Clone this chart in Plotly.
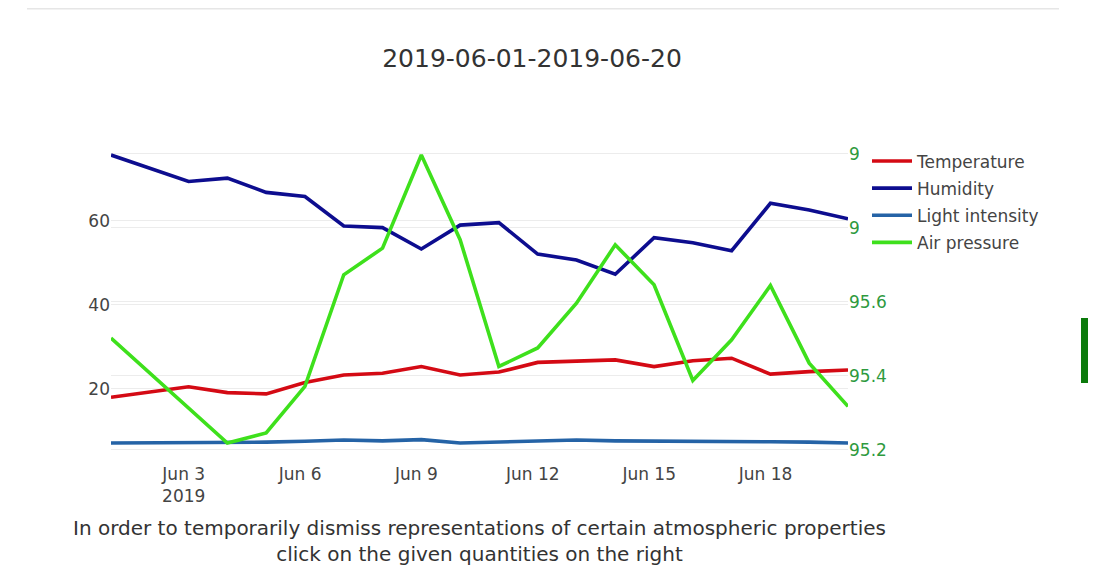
import plotly.graph_objects as go

dates = [f"2019-06-{d:02d} 03:00" for d in range(1, 21)]

temperature = [18.0, 19.2, 20.5, 19.1, 18.8, 21.5, 23.3, 23.7, 25.3, 23.3,
               24.0, 26.3, 26.5, 26.9, 25.3, 26.7, 27.3, 23.5, 24.1, 24.5]
humidity = [75.7, 72.5, 69.4, 70.2, 66.8, 65.8, 58.8, 58.4, 53.3, 59.0,
            59.6, 52.1, 50.7, 47.3, 56.0, 54.8, 52.9, 64.2, 62.6, 60.5]
light_intensity = [7.1, 7.1, 7.1, 7.1, 7.3, 7.5, 7.8, 7.6, 7.9, 7.1,
                   7.3, 7.6, 7.8, 7.6, 7.6, 7.6, 7.6, 7.4, 7.3, 7.1]
air_pressure = [95.502, 95.407, 95.313, 95.218, 95.245, 95.371, 95.673, 95.745, 95.997, 95.768,
                95.425, 95.475, 95.596, 95.754, 95.646, 95.387, 95.497, 95.644, 95.434, 95.317]

title_text = "2019-06-01-2019-06-20"
note_text = ("In order to temporarily dismiss representations of certain atmospheric properties"
             "<br>click on the given quantities on the right")

FONT = "DejaVu Sans, Verdana, sans-serif"
LW = 3.6

# figure is rendered with an 8px page offset; coordinates below are figure pixels
W, H = 1088, 558
L, T, PW, PH = 103, 131, 737, 320

fig = go.Figure()
fig.add_trace(go.Scatter(x=dates, y=temperature, name="Temperature", mode="lines",
                         legendgroup="a", line=dict(color="#d40a14", width=LW)))
fig.add_trace(go.Scatter(x=dates, y=humidity, name="Humidity", mode="lines",
                         legendgroup="b", line=dict(color="#0d0d8f", width=LW)))
fig.add_trace(go.Scatter(x=dates, y=light_intensity, name="Light intensity", mode="lines",
                         legendgroup="c", line=dict(color="#2563a6", width=LW)))
fig.add_trace(go.Scatter(x=dates, y=air_pressure, name="Air pressure", mode="lines",
                         legendgroup="d", line=dict(color="#3ee01c", width=LW), yaxis="y2"))

def px(x):
    return (x - L) / PW

def py(y):
    return (T + PH - y) / PH

fig.update_layout(
    width=W, height=H,
    margin=dict(l=L, r=W - L - PW, t=T, b=H - T - PH),
    paper_bgcolor="white", plot_bgcolor="white",
    font=dict(family=FONT, size=17, color="#444"),
    title=dict(text=title_text, x=524 / W, xref="container", xanchor="center",
               y=1 - 50 / H, yref="container", yanchor="middle",
               font=dict(size=25, color="#333")),
    xaxis=dict(type="date", tick0="2019-06-03", dtick=3 * 86400000,
               showgrid=False, zeroline=False, ticks="", ticklabelstandoff=3,
               tickfont=dict(size=17)),
    yaxis=dict(dtick=20, showgrid=True, gridcolor="#ececec", gridwidth=1.3,
               zeroline=False, tickfont=dict(size=17)),
    yaxis2=dict(overlaying="y", side="right", dtick=0.2, showgrid=True,
                gridcolor="#ececec", gridwidth=1.3, zeroline=False,
                tickfont=dict(size=17, color="#2e9a3e")),
    legend=dict(x=px(851), xanchor="left", y=1 + 3.5 / PH, yanchor="top",
                bgcolor="white", bordercolor="white", borderwidth=8,
                font=dict(size=17, color="#444"), itemwidth=40, tracegroupgap=2),
    showlegend=True,
    annotations=[dict(text=note_text, xref="paper", yref="paper", x=0.5, y=py(532.5),
                      xanchor="center", yanchor="middle", showarrow=False,
                      font=dict(size=20, color="#333"))],
    shapes=[
        dict(type="line", xref="paper", yref="paper",
             x0=px(19), x1=px(1051), y0=py(0.8), y1=py(0.8),
             line=dict(color="#e6e6e6", width=1.5)),
        dict(type="rect", xref="paper", yref="paper",
             x0=px(1073), x1=px(1092), y0=py(375), y1=py(310),
             fillcolor="#0b7a0b", line=dict(width=0)),
    ],
)

fig.write_html("out.html")
